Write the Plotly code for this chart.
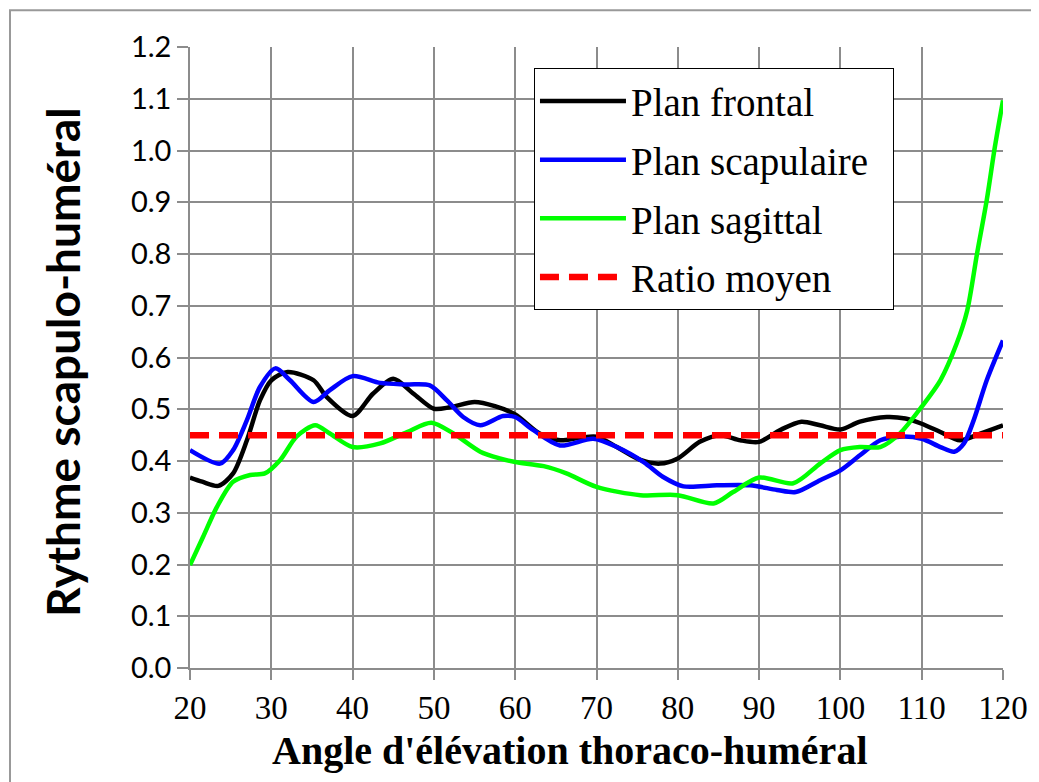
import plotly.graph_objects as go

# ---- data ----
frontal_x = [20, 21.5, 23.5, 25.3, 27, 28.6, 30, 32, 35.2, 36.8, 40, 42.5, 45, 47.5, 50, 52, 55, 57.5,
             60, 63, 65.5, 68, 70, 72.5, 75.4, 77.8, 80, 82.7, 85.2, 87.7, 90, 92.6, 95.2, 97.5,
             100, 102.4, 105.7, 108, 110, 112.3, 114.7, 117.2, 120]
frontal_y = [0.368, 0.36, 0.352, 0.376, 0.44, 0.517, 0.556, 0.572, 0.556, 0.524, 0.487, 0.530, 0.559, 0.530,
             0.501, 0.504, 0.514, 0.506, 0.490, 0.453, 0.44, 0.445, 0.447, 0.427, 0.402, 0.395, 0.405,
             0.437, 0.45, 0.44, 0.437, 0.46, 0.476, 0.469, 0.461, 0.476, 0.485, 0.482, 0.472, 0.456,
             0.44, 0.453, 0.469]

scap_x = [20, 23.7, 25.3, 27, 28.6, 30.5, 32.3, 35.2, 37.2, 40, 43.4, 46.7, 49.5, 51.6, 53.6, 55.7, 58.5,
          60, 62.2, 65.5, 69.6, 72.5, 75.8, 78.2, 80.7, 84.8, 88.9, 92.2, 94.5, 97.5, 100, 102.4, 104.9,
          107.3, 110, 112.3, 114, 115.2, 116.4, 118, 120]
scap_y = [0.421, 0.395, 0.421, 0.479, 0.543, 0.579, 0.556, 0.514, 0.537, 0.564, 0.551, 0.548, 0.546, 0.517,
          0.485, 0.469, 0.487, 0.485, 0.46, 0.43, 0.443, 0.427, 0.398, 0.369, 0.351, 0.353, 0.353, 0.344,
          0.34, 0.363, 0.382, 0.411, 0.44, 0.447, 0.443, 0.427, 0.418, 0.434, 0.479, 0.556, 0.633]

sag_x = [20, 21.6, 23.3, 25.3, 27.4, 29.2, 31.1, 33.1, 35.4, 37.2, 40, 43.4, 46.7, 49.7, 52.4, 55.7, 58.1,
         60, 63.5, 66.3, 70, 75.4, 80, 84.4, 86.8, 90, 94.2, 97.5, 100, 102.4, 104.9, 107.3, 110, 112.3,
         114.3, 115.6, 116.8, 118, 119, 120]
sag_y = [0.199, 0.253, 0.311, 0.36, 0.373, 0.376, 0.402, 0.447, 0.469, 0.453, 0.427, 0.434, 0.456, 0.474,
         0.453, 0.418, 0.405, 0.398, 0.39, 0.376, 0.35, 0.334, 0.334, 0.318, 0.34, 0.368, 0.357, 0.395,
         0.421, 0.427, 0.427, 0.453, 0.505, 0.556, 0.627, 0.691, 0.80, 0.904, 1.007, 1.097]

ratio_x = [20, 120]
ratio_y = [0.45, 0.45]

x_ticks = [20, 30, 40, 50, 60, 70, 80, 90, 100, 110, 120]
y_ticks = [0.0, 0.1, 0.2, 0.3, 0.4, 0.5, 0.6, 0.7, 0.8, 0.9, 1.0, 1.1, 1.2]

SERIF = "Liberation Serif"
SANS = "Lato"
GRID = "#8c8c8c"
PAD = "\u00a0\u00a0"

fig = go.Figure()
fig.add_trace(go.Scatter(x=frontal_x, y=frontal_y, mode="lines", name="Plan frontal" + PAD, legendgroup="a",
                         line=dict(color="#000000", width=4.5, shape="spline", smoothing=0.8)))
fig.add_trace(go.Scatter(x=scap_x, y=scap_y, mode="lines", name="Plan scapulaire" + PAD, legendgroup="b",
                         line=dict(color="#0000ff", width=4.5, shape="spline", smoothing=0.8)))
fig.add_trace(go.Scatter(x=sag_x, y=sag_y, mode="lines", name="Plan sagittal" + PAD, legendgroup="c",
                         line=dict(color="#00ff00", width=4.5, shape="spline", smoothing=0.8)))
fig.add_trace(go.Scatter(x=ratio_x, y=ratio_y, mode="lines", name="Ratio moyen" + PAD, legendgroup="d",
                         line=dict(color="#ff0000", width=6.5, dash="19px,10px")))

# page has an 8px body margin: figure is offset by 8px
fig.update_layout(
    width=1031, height=774,
    margin=dict(l=182, r=36, t=39, b=114),
    paper_bgcolor="white", plot_bgcolor="white",
    showlegend=True,
    legend=dict(x=0.4231, y=0.966, xanchor="left", yanchor="top",
                bordercolor="#000000", borderwidth=1, bgcolor="white",
                font=dict(family=SERIF, size=39, color="#000000"),
                itemwidth=86, tracegroupgap=5, traceorder="grouped"),
)
fig.update_xaxes(range=[20, 120], tickvals=x_ticks, ticktext=[str(v) for v in x_ticks],
                 showgrid=True, gridcolor=GRID, gridwidth=1.5,
                 showline=True, linecolor=GRID, linewidth=1.5,
                 ticks="outside", ticklen=10, tickcolor=GRID, tickwidth=1.5,
                 tickfont=dict(family=SERIF, size=33, color="#000000"), zeroline=False)
fig.update_yaxes(range=[0, 1.2], tickvals=y_ticks, ticktext=[f"{v:.1f}" for v in y_ticks],
                 showgrid=True, gridcolor=GRID, gridwidth=1.5,
                 showline=True, linecolor=GRID, linewidth=1.5,
                 ticks="outside", ticklen=11, tickcolor=GRID, tickwidth=1.5,
                 tickfont=dict(family=SANS, size=29, color="#000000"), zeroline=False)

# axis titles
fig.add_annotation(text="<b>Angle d'élévation thoraco-huméral</b>", xref="paper", yref="paper",
                   x=0.467, y=-0.133, xanchor="center", yanchor="middle", showarrow=False,
                   font=dict(family=SERIF, size=40, color="#000000"))
fig.add_annotation(text="<b>Rythme scapulo-huméral</b>", xref="paper", yref="paper",
                   x=-0.156, y=0.493, xanchor="center", yanchor="middle", showarrow=False, textangle=-90,
                   font=dict(family=SANS, size=46, color="#000000"))

# outer chart border
fig.add_shape(type="rect", xref="paper", yref="paper", x0=-0.2214, y0=1.0593, x1=1.06, y1=-0.21,
              line=dict(color="#999999", width=2), layer="below")

fig.write_html("out.html")
